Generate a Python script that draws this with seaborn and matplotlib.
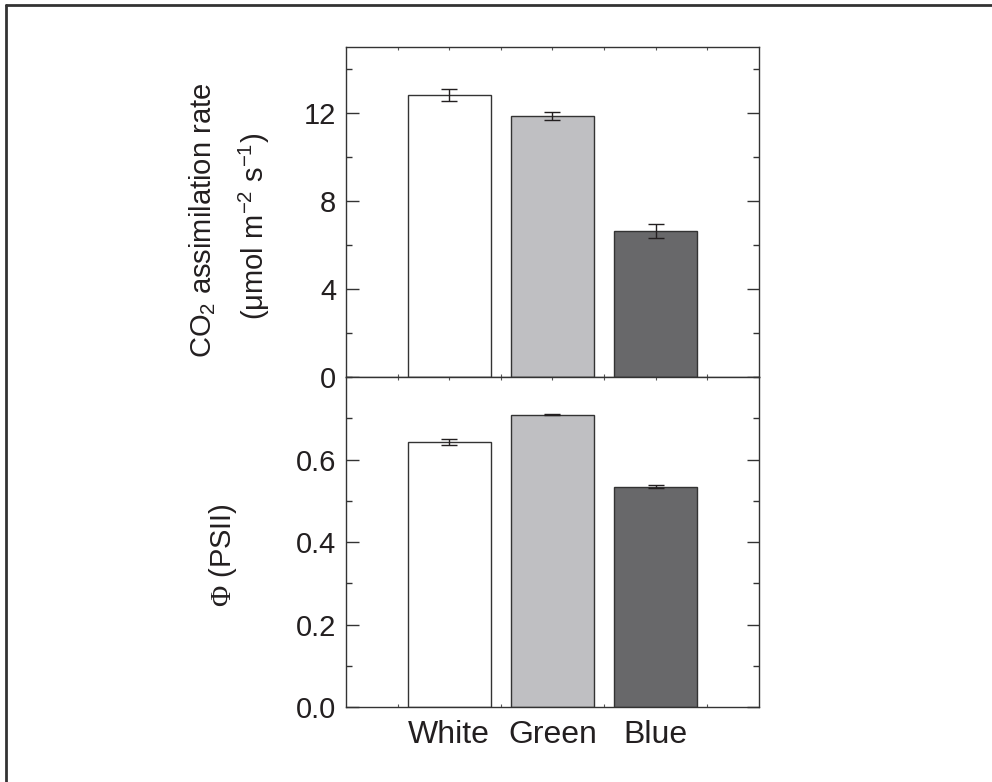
import matplotlib
matplotlib.use("Agg")
import matplotlib.pyplot as plt
from matplotlib.lines import Line2D
from matplotlib.ticker import FixedLocator, MultipleLocator, FormatStrFormatter
import seaborn as sns
import pandas as pd

# data
light = ["White", "Green", "Blue"]
co2_rate = [12.82, 11.85, 6.64]
co2_err = [0.29, 0.18, 0.33]
phi_psii = [0.643, 0.709, 0.534]
phi_err = [0.007, 0.002, 0.003]
bar_colors = ["#ffffff", "#bebfc2", "#68686a"]
co2_ticks = [0, 4, 8, 12]
phi_ticks = [0.0, 0.2, 0.4, 0.6]

sns.set_style("ticks")
plt.rcParams["font.family"] = ["Liberation Sans", "DejaVu Sans"]
plt.rcParams["mathtext.fontset"] = "custom"
plt.rcParams["mathtext.rm"] = "Liberation Serif"
plt.rcParams["mathtext.sf"] = "Liberation Sans"
plt.rcParams["mathtext.it"] = "Liberation Sans:italic"

ink = "#231f20"
df = pd.DataFrame({"light": light, "co2": co2_rate, "phi": phi_psii})

fig = plt.figure(figsize=(9.92, 7.82), dpi=100)
ax1 = fig.add_axes([0.3488, 0.5179, 0.4163, 0.4220])
ax2 = fig.add_axes([0.3488, 0.0959, 0.4163, 0.4220])

# outer frame (top and left edges only)
fig.add_artist(Line2D([6 / 992, 1.0], [1 - 5 / 782, 1 - 5 / 782], transform=fig.transFigure,
                      color="#333333", lw=2))
fig.add_artist(Line2D([6 / 992, 6 / 992], [0.0, 1 - 5 / 782], transform=fig.transFigure,
                      color="#333333", lw=2))

for ax, col, err in [(ax1, "co2", co2_err), (ax2, "phi", phi_err)]:
    sns.barplot(data=df, x="light", y=col, hue="light", palette=bar_colors, legend=False,
                width=0.8, edgecolor="#333333", linewidth=1.0, ax=ax)
    ax.errorbar(range(len(light)), df[col], yerr=err, fmt="none", ecolor=ink,
                elinewidth=1.0, capsize=6, capthick=1.0)
    ax.set_xlim(-1, 3)
    ax.xaxis.set_minor_locator(FixedLocator([-0.5, 0.5, 1.5, 2.5]))
    ax.tick_params(axis="y", which="major", direction="in", length=9, width=1,
                   left=True, right=True, labelsize=21, colors="#333333", labelcolor=ink, pad=7)
    ax.tick_params(axis="y", which="minor", direction="in", length=4.5, width=1,
                   left=True, right=True, colors="#333333")
    ax.tick_params(axis="x", which="both", direction="in", length=2.5, width=0.8,
                   top=True, bottom=True, colors="#555555", labelcolor=ink)
    for s in ax.spines.values():
        s.set_color("#333333")
        s.set_linewidth(1.0)
    ax.set_xlabel("")
    ax.set_ylabel("")

ax1.set_ylim(0, 15)
ax1.yaxis.set_major_locator(FixedLocator(co2_ticks))
ax1.yaxis.set_minor_locator(MultipleLocator(2))
ax1.tick_params(axis="x", labelbottom=False)
fig.text(203 / 992, 1 - 220 / 782, r"CO$_\mathsf{2}$ assimilation rate", rotation=90,
         ha="center", va="center", fontsize=21, color=ink)
fig.text(254 / 992, 1 - 226 / 782, r"(μmol m$^\mathsf{-2}$ s$^\mathsf{-1}$)", rotation=90,
         ha="center", va="center", fontsize=21, color=ink)

ax2.set_ylim(0, 0.8)
ax2.yaxis.set_major_locator(FixedLocator(phi_ticks))
ax2.yaxis.set_minor_locator(MultipleLocator(0.1))
ax2.yaxis.set_major_formatter(FormatStrFormatter("%.1f"))
ax2.tick_params(axis="x", labelsize=23, pad=9)
fig.text(223 / 992, 1 - 555 / 782, r"$\Phi$ (PSII)", rotation=90,
         ha="center", va="center", fontsize=21, color=ink)

fig.savefig("out.png", dpi=100)
